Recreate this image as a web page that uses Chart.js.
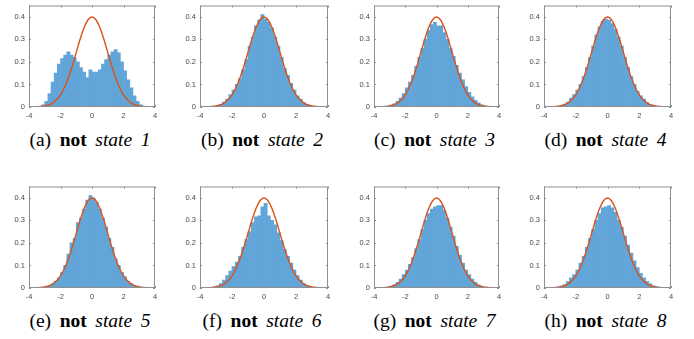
<!DOCTYPE html>
<html>
<head>
<meta charset="utf-8">
<script src="https://cdn.jsdelivr.net/npm/chart.js@4.4.1/dist/chart.umd.min.js"></script>
<style>
  body { margin: 0; background: #fff; width: 694px; height: 339px; position: relative; overflow: hidden; }
  canvas { position: absolute; }
  .cap {
    position: absolute; width: 200px; text-align: center; white-space: nowrap;
    font-family: "Liberation Serif", "Times New Roman", serif; font-size: 19.5px; line-height: 20px;
    word-spacing: 3.7px; color: #000;
  }
  .cap b { font-family: "Liberation Serif", "Times New Roman", serif; font-weight: 700; }
  .cap i { font-family: "Liberation Serif", "Times New Roman", serif; font-style: italic; }
</style>
</head>
<body>
<script>
// ---------- data ----------
const binCenters = [-3.5, -3.3, -3.1, -2.9, -2.7, -2.5, -2.3, -2.1, -1.9, -1.7, -1.5, -1.3,
  -1.1, -0.9, -0.7, -0.5, -0.3, -0.1, 0.1, 0.3, 0.5, 0.7, 0.9, 1.1,
  1.3, 1.5, 1.7, 1.9, 2.1, 2.3, 2.5, 2.7, 2.9, 3.1, 3.3, 3.5];

const hist1 = [0, 0.002, 0.01, 0.025, 0.06, 0.11, 0.15, 0.19, 0.215, 0.23, 0.245, 0.23,
  0.22, 0.2, 0.175, 0.155, 0.13, 0.165, 0.155, 0.155, 0.165, 0.19, 0.21, 0.23,
  0.245, 0.255, 0.24, 0.2, 0.16, 0.12, 0.085, 0.05, 0.025, 0.01, 0.003, 0];
const hist2 = [0, 0.001, 0.003, 0.006, 0.012, 0.022, 0.035, 0.055, 0.075, 0.1, 0.125, 0.165,
  0.21, 0.27, 0.31, 0.36, 0.385, 0.41, 0.39, 0.375, 0.35, 0.31, 0.27, 0.22,
  0.17, 0.14, 0.105, 0.075, 0.05, 0.035, 0.02, 0.011, 0.006, 0.003, 0.001, 0];
const hist3 = [0, 0.002, 0.004, 0.008, 0.014, 0.025, 0.04, 0.06, 0.085, 0.11, 0.14, 0.18,
  0.22, 0.26, 0.3, 0.34, 0.365, 0.375, 0.36, 0.36, 0.33, 0.3, 0.26, 0.225,
  0.185, 0.15, 0.12, 0.09, 0.065, 0.045, 0.03, 0.018, 0.01, 0.005, 0.002, 0];
const hist4 = [0, 0.001, 0.003, 0.007, 0.013, 0.022, 0.04, 0.055, 0.075, 0.1, 0.135, 0.175,
  0.22, 0.27, 0.32, 0.355, 0.38, 0.39, 0.385, 0.37, 0.345, 0.31, 0.27, 0.22,
  0.175, 0.135, 0.1, 0.07, 0.05, 0.035, 0.02, 0.01, 0.005, 0.002, 0.001, 0];
const hist5 = [0, 0.001, 0.002, 0.005, 0.01, 0.018, 0.03, 0.045, 0.07, 0.1, 0.15, 0.2,
  0.22, 0.29, 0.31, 0.35, 0.39, 0.41, 0.4, 0.38, 0.35, 0.31, 0.27, 0.22,
  0.18, 0.13, 0.1, 0.07, 0.05, 0.03, 0.02, 0.01, 0.005, 0.002, 0.001, 0];
const hist6 = [0, 0.002, 0.005, 0.01, 0.02, 0.035, 0.055, 0.075, 0.095, 0.115, 0.14, 0.18,
  0.215, 0.25, 0.29, 0.315, 0.32, 0.36, 0.375, 0.32, 0.3, 0.28, 0.245, 0.21,
  0.17, 0.14, 0.11, 0.08, 0.055, 0.035, 0.02, 0.01, 0.005, 0.002, 0.001, 0];
const hist7 = [0, 0.002, 0.004, 0.008, 0.015, 0.025, 0.04, 0.06, 0.08, 0.105, 0.135, 0.175,
  0.215, 0.26, 0.3, 0.33, 0.35, 0.36, 0.365, 0.365, 0.345, 0.31, 0.27, 0.23,
  0.185, 0.145, 0.11, 0.08, 0.06, 0.04, 0.025, 0.014, 0.007, 0.003, 0.001, 0];
const hist8 = [0, 0.002, 0.004, 0.008, 0.015, 0.028, 0.045, 0.06, 0.08, 0.11, 0.14, 0.18,
  0.22, 0.26, 0.3, 0.33, 0.355, 0.36, 0.365, 0.355, 0.335, 0.3, 0.27, 0.23,
  0.19, 0.155, 0.12, 0.09, 0.065, 0.045, 0.03, 0.018, 0.01, 0.005, 0.002, 0];

// reference normal curve, read at steps of 0.25
const curveX = [-4, -3.75, -3.5, -3.25, -3, -2.75, -2.5, -2.25, -2, -1.75, -1.5, -1.25, -1,
  -0.75, -0.5, -0.25, 0, 0.25, 0.5, 0.75, 1, 1.25, 1.5, 1.75, 2, 2.25, 2.5, 2.75, 3, 3.25, 3.5, 3.75, 4];
const curveY = [0.0001, 0.0004, 0.0009, 0.002, 0.0044, 0.0091, 0.0175, 0.0317, 0.054, 0.0863, 0.1295, 0.1826, 0.242,
  0.3011, 0.3521, 0.3867, 0.3989, 0.3867, 0.3521, 0.3011, 0.242, 0.1826, 0.1295, 0.0863, 0.054, 0.0317, 0.0175, 0.0091, 0.0044, 0.002, 0.0009, 0.0004, 0.0001];

const xTicks = [-4, -2, 0, 2, 4];
const yTicks = [0, 0.1, 0.2, 0.3, 0.4];

const histograms = [hist1, hist2, hist3, hist4, hist5, hist6, hist7, hist8];
const letters = ['a', 'b', 'c', 'd', 'e', 'f', 'g', 'h'];

// ---------- layout ----------
const colLeft = [29, 200, 374, 544];
const colWidth = [126, 128, 125, 127];
const rowTop = [1, 182];
const plotH = 106;
const capBase = [146.5, 327.3];   // caption baselines
const PAD_L = 30, PAD_T = 4, PAD_R = 10, AX_H = 20;

const BAR_COLOR = '#62a5d8';
const LINE_COLOR = '#d95319';
const AXIS_COLOR = '#8f8f8f';
const TICK_TEXT = '#4a4a4a';

// box + inward tick marks on all four sides (MATLAB look)
const boxTicks = {
  id: 'boxTicks',
  afterDatasetsDraw(chart) {
    const { ctx, chartArea: a, scales: { x, y } } = chart;
    ctx.save();
    ctx.strokeStyle = AXIS_COLOR;
    ctx.lineWidth = 1;
    ctx.strokeRect(a.left + 0.5, a.top + 0.5, a.right - a.left - 1, a.bottom - a.top - 1);
    ctx.beginPath();
    const len = 2;
    xTicks.forEach(v => {
      const px = Math.round(x.getPixelForValue(v)) + 0.5;
      ctx.moveTo(px, a.bottom); ctx.lineTo(px, a.bottom - len);
      ctx.moveTo(px, a.top); ctx.lineTo(px, a.top + len);
    });
    yTicks.forEach(v => {
      const py = Math.round(y.getPixelForValue(v)) + 0.5;
      ctx.moveTo(a.left, py); ctx.lineTo(a.left + len, py);
      ctx.moveTo(a.right, py); ctx.lineTo(a.right - len, py);
    });
    ctx.stroke();
    ctx.restore();
  }
};

function makePanel(i) {
  const col = i % 4, row = Math.floor(i / 4);
  const w = colWidth[col] + PAD_L + PAD_R;
  const h = plotH + PAD_T + AX_H;

  const canvas = document.createElement('canvas');
  canvas.width = w;
  canvas.height = h;
  canvas.style.left = (colLeft[col] - PAD_L) + 'px';
  canvas.style.top = (rowTop[row] - PAD_T) + 'px';
  document.body.appendChild(canvas);

  new Chart(canvas.getContext('2d'), {
    type: 'bar',
    data: {
      datasets: [
        {
          type: 'line',
          data: curveX.map((x, k) => ({ x, y: curveY[k] })),
          borderColor: LINE_COLOR,
          borderWidth: 1.4,
          pointRadius: 0,
          cubicInterpolationMode: 'monotone',
          fill: false,
          order: 0
        },
        {
          type: 'bar',
          data: binCenters.map((x, k) => ({ x, y: histograms[i][k] })),
          backgroundColor: BAR_COLOR,
          borderWidth: 0,
          categoryPercentage: 1,
          barPercentage: 1,
          grouped: false,
          order: 1
        }
      ]
    },
    options: {
      responsive: false,
      animation: false,
      devicePixelRatio: 1,
      layout: { padding: { top: PAD_T, right: PAD_R, left: 0, bottom: 0 } },
      plugins: { legend: { display: false }, tooltip: { enabled: false } },
      scales: {
        x: {
          type: 'linear',
          min: -4, max: 4,
          offset: false,
          grid: { display: false, drawTicks: false },
          border: { display: false },
          afterBuildTicks: s => { s.ticks = xTicks.map(v => ({ value: v })); },
          afterFit: s => { s.height = AX_H; },
          ticks: {
            padding: 4,
            maxRotation: 0,
            autoSkip: false,
            color: TICK_TEXT,
            font: { family: 'Liberation Sans, Arial, sans-serif', size: 7.5 },
            callback: v => String(v)
          }
        },
        y: {
          min: 0, max: 0.45,
          grid: { display: false, drawTicks: false },
          border: { display: false },
          afterBuildTicks: s => { s.ticks = yTicks.map(v => ({ value: v })); },
          afterFit: s => { s.width = PAD_L; },
          ticks: {
            padding: 4,
            autoSkip: false,
            color: TICK_TEXT,
            font: { family: 'Liberation Sans, Arial, sans-serif', size: 7.5 },
            callback: v => String(Math.round(v * 10) / 10)
          }
        }
      }
    },
    plugins: [boxTicks]
  });

  // caption below the panel; baseline sits 16.6px below the div top at this size
  const cap = document.createElement('div');
  cap.className = 'cap';
  cap.innerHTML = '(' + letters[i] + ') <b>not</b> <i>state ' + (i + 1) + '</i>';
  cap.style.left = (colLeft[col] + colWidth[col] / 2 - 2 - 100) + 'px';
  cap.style.top = (capBase[row] - 16.6) + 'px';
  document.body.appendChild(cap);
}

for (let i = 0; i < 8; i++) makePanel(i);
</script>
</body>
</html>
